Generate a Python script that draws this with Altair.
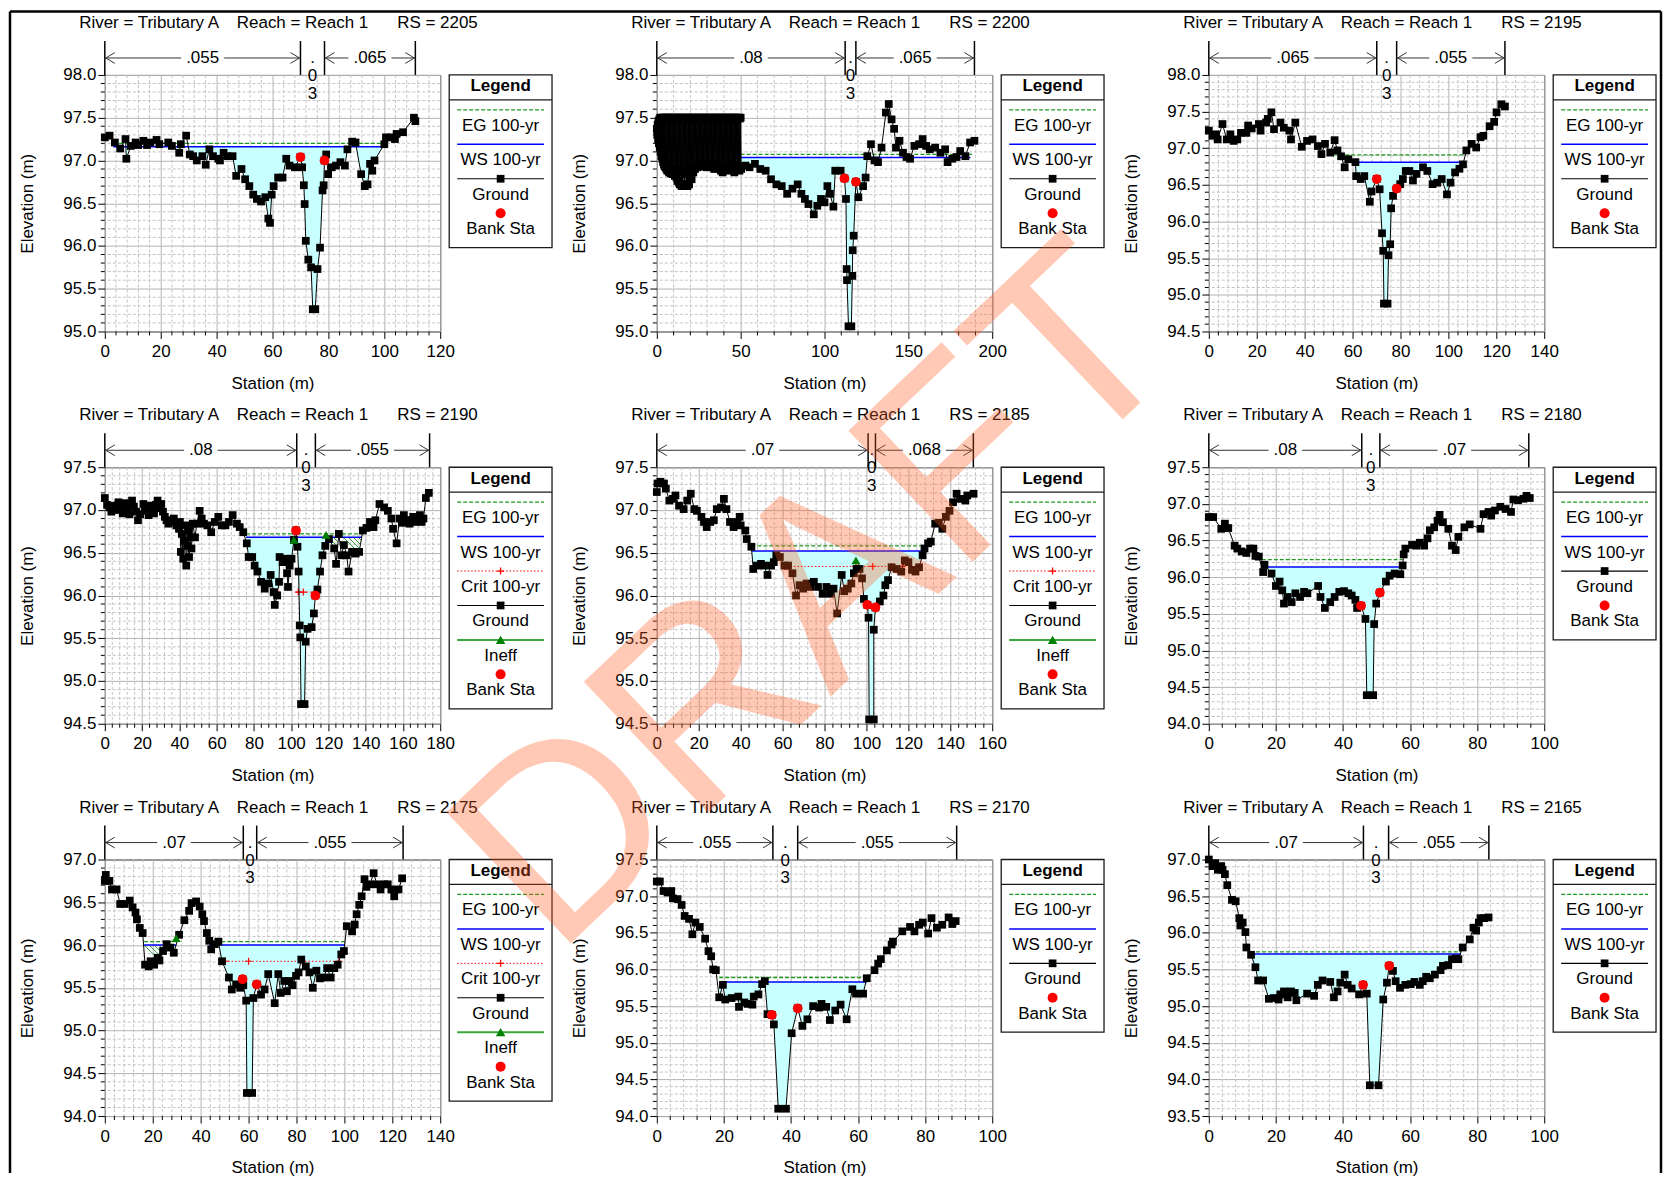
import altair as alt
import pandas as pd

FONT = "Liberation Sans"
FS = 17
PW, PH = 336, 257

RIVER_LABEL = "River = Tributary A"
REACH_LABEL = "Reach = Reach 1"
RS_ORDER = [2205, 2200, 2195, 2190, 2185, 2180, 2175, 2170, 2165]

X_MAX = {2205: 120, 2200: 200, 2195: 140, 2190: 180, 2185: 160, 2180: 100, 2175: 140, 2170: 100, 2165: 100}
X_STEP = {2205: 20, 2200: 50, 2195: 20, 2190: 20, 2185: 20, 2180: 20, 2175: 20, 2170: 20, 2165: 20}
Y_MIN = {2205: 95.0, 2200: 95.0, 2195: 94.5, 2190: 94.5, 2185: 94.5, 2180: 94.0, 2175: 94.0, 2170: 94.0, 2165: 93.5}
Y_MAX = {2205: 98.0, 2200: 98.0, 2195: 98.0, 2190: 97.5, 2185: 97.5, 2180: 97.5, 2175: 97.0, 2170: 97.5, 2165: 97.0}

# ---------------- ground points (station m, elevation m) ----------------
GROUND_2205 = [(0, 97.27), (1.7, 97.29), (3.6, 97.21), (5.5, 97.14), (7.4, 97.25), (7.7, 97.02), (9.3, 97.17),
               (11.0, 97.21), (11.9, 97.18), (13.8, 97.23), (15.1, 97.18), (16.3, 97.21), (18.5, 97.24), (19.5, 97.19),
               (22.7, 97.21), (24.0, 97.17), (26.6, 97.09), (27.2, 97.19), (29.1, 97.29), (30.4, 97.07), (31.6, 97.05),
               (32.9, 97.00), (34.9, 97.05), (36.1, 96.95), (37.4, 97.13), (38.7, 97.05), (40.6, 97.02), (41.2, 97.00),
               (42.5, 97.09), (43.8, 97.05), (45.7, 97.05), (47.0, 96.82), (48.9, 96.90), (50.2, 96.78), (51.7, 96.70),
               (53.1, 96.60), (54.4, 96.55), (55.9, 96.52), (57.4, 96.57), (58.5, 96.32), (59.1, 96.27), (59.7, 96.60),
               (60.4, 96.70), (62.0, 96.80), (63.6, 96.80), (64.9, 97.02), (66.1, 96.94), (68.0, 96.92), (70.0, 97.04),
               (70.6, 96.92), (71.2, 96.71), (71.5, 96.49), (71.9, 96.06), (72.8, 95.84), (73.8, 95.75), (74.4, 95.26),
               (75.3, 95.26), (76.1, 95.73), (77.0, 95.98), (77.9, 96.65), (78.3, 96.71), (78.6, 97.00), (79.2, 97.07),
               (79.9, 96.84), (81.2, 96.92), (82.7, 96.94), (84.3, 96.98), (85.9, 96.94), (86.8, 97.13), (88.5, 97.22),
               (89.7, 97.21), (91.7, 96.84), (93.0, 96.70), (94.0, 96.72), (94.9, 96.96), (95.7, 96.88), (96.5, 97.00),
               (100.0, 97.19), (100.6, 97.27), (102.5, 97.27), (103.8, 97.25), (104.4, 97.31), (106.7, 97.33),
               (110.6, 97.50), (111.1, 97.46)]

# RS 2200: very dense survey shots in the left overbank (stations 0..50, every 0.25 m), then the rest
LEFT_HI_2200 = [97.37, 97.42, 97.46, 97.48, 97.50, 97.49, 97.50, 97.50, 97.48, 97.50,
                97.50, 97.49, 97.50, 97.50, 97.50, 97.48, 97.50, 97.49, 97.50, 97.50,
                97.49, 97.50, 97.48, 97.50, 97.50, 97.49, 97.50, 97.50, 97.49, 97.50,
                97.50, 97.48, 97.50, 97.49, 97.50, 97.50, 97.49, 97.50, 97.50, 97.48,
                97.50, 97.49, 97.50, 97.50, 97.49, 97.50, 97.50, 97.48, 97.50, 97.49,
                97.50, 97.50, 97.49, 97.50, 97.48, 97.50, 97.50, 97.49, 97.50, 97.50,
                97.48, 97.50, 97.49, 97.50, 97.50, 97.49, 97.50, 97.48, 97.50, 97.50,
                97.49, 97.50, 97.50, 97.48, 97.50, 97.49, 97.50, 97.50, 97.49, 97.50,
                97.50, 97.48, 97.50, 97.49, 97.50, 97.50, 97.49, 97.50, 97.48, 97.50,
                97.50, 97.49, 97.50, 97.50, 97.48, 97.50, 97.49, 97.50, 97.50, 97.49,
                97.50]
LEFT_LO_2200 = [97.30, 97.25, 97.20, 97.15, 97.10, 97.05, 97.02, 96.98, 96.95, 96.93,
                96.92, 96.90, 96.88, 96.92, 96.86, 96.90, 96.85, 96.88, 96.84, 96.90,
                96.86, 96.82, 96.90, 96.80, 96.76, 96.88, 96.74, 96.72, 96.86, 96.70,
                96.72, 96.88, 96.70, 96.70, 96.84, 96.72, 96.70, 96.86, 96.72, 96.80,
                96.90, 96.78, 96.92, 96.86, 96.94, 96.90, 96.93, 96.95, 96.92, 96.94,
                96.95, 96.93, 96.96, 96.94, 96.95, 96.97, 96.93, 96.95, 96.94, 96.92,
                96.94, 96.96, 96.95, 96.93, 96.96, 96.94, 96.92, 96.95, 96.90, 96.94,
                96.92, 96.95, 96.93, 96.90, 96.94, 96.92, 96.88, 96.93, 96.86, 96.90,
                96.92, 96.88, 96.94, 96.90, 96.93, 96.91, 96.94, 96.92, 96.90, 96.93,
                96.88, 96.92, 96.86, 96.90, 96.92, 96.94, 96.90, 96.92, 96.88, 96.91]
RIGHT_2200 = [(50.3, 96.90), (52.8, 96.94), (55.3, 96.92), (58.5, 96.96), (61.7, 96.90), (64.9, 96.88), (68.1, 96.78),
              (71.3, 96.72), (74.5, 96.70), (77.7, 96.61), (80.9, 96.67), (84.0, 96.72), (86.2, 96.61), (88.3, 96.55),
              (90.4, 96.49), (93.6, 96.37), (95.7, 96.47), (97.9, 96.55), (100.0, 96.51), (101.7, 96.70),
              (103.2, 96.61), (105.3, 96.46), (106.4, 96.88), (109.6, 96.88), (111.9, 96.79), (112.8, 96.55),
              (113.2, 95.73), (113.4, 95.60), (114.3, 95.06), (116.0, 95.06), (116.6, 95.65), (116.8, 95.95),
              (117.4, 96.12), (118.7, 96.75), (120.2, 96.57), (123.0, 96.70), (124.5, 96.80), (125.5, 97.05),
              (127.7, 97.19), (129.8, 97.00), (131.9, 96.98), (134.0, 97.15), (136.6, 97.56), (138.3, 97.66),
              (140.0, 97.48), (141.5, 97.37), (142.6, 97.15), (144.7, 97.23), (146.8, 97.09), (148.9, 97.04),
              (151.0, 97.02), (153.6, 97.17), (156.4, 97.19), (158.5, 97.25), (160.6, 97.17), (162.8, 97.13),
              (166.0, 97.15), (169.1, 97.09), (171.9, 97.13), (173.4, 96.98), (176.2, 97.02), (178.7, 97.04),
              (180.9, 97.11), (184.0, 97.05), (186.8, 97.21), (189.4, 97.23)]

GROUND_2195 = [(0, 97.24), (1.5, 97.17), (3.0, 97.19), (3.7, 97.12), (5.7, 97.33), (7.5, 97.12), (9.0, 97.19),
               (10.4, 97.10), (11.9, 97.12), (13.4, 97.21), (15.7, 97.21), (16.4, 97.31), (17.9, 97.27), (20.9, 97.33),
               (21.6, 97.24), (23.9, 97.35), (24.6, 97.40), (26.1, 97.49), (27.2, 97.26), (29.9, 97.35), (31.3, 97.28),
               (33.6, 97.24), (34.3, 97.12), (36.1, 97.35), (38.8, 97.02), (41.0, 97.10), (43.3, 97.12), (45.5, 97.03),
               (47.0, 96.92), (48.5, 97.06), (50.7, 96.94), (52.5, 97.11), (53.7, 96.97), (55.2, 96.89), (56.7, 96.74),
               (58.2, 96.85), (61.2, 96.81), (61.5, 96.62), (63.4, 96.58), (64.9, 96.62), (67.2, 96.27), (67.9, 96.41),
               (70.1, 96.58), (71.3, 96.44), (72.3, 95.84), (72.8, 95.60), (73.1, 94.88), (74.6, 94.88), (75.0, 95.54),
               (75.7, 95.69), (76.1, 96.18), (76.9, 96.35), (78.4, 96.45), (79.9, 96.51), (81.0, 96.58), (82.2, 96.69),
               (83.7, 96.69), (85.2, 96.56), (86.7, 96.65), (89.4, 96.74), (91.2, 96.69), (93.4, 96.51), (95.4, 96.53),
               (97.2, 96.58), (99.4, 96.37), (100.9, 96.53), (102.8, 96.67), (104.6, 96.72), (106.1, 96.78),
               (107.5, 96.97), (109.7, 97.06), (111.6, 97.01), (113.4, 97.15), (114.6, 97.17), (117.2, 97.30),
               (119.1, 97.36), (120.1, 97.49), (122.1, 97.60), (123.6, 97.57)]

GROUND_2190 = [(0, 97.14), (1.2, 97.06), (2.5, 97.03), (3.5, 96.98), (5.4, 97.05), (6.3, 97.00), (7.3, 97.09),
               (8.4, 97.02), (9.6, 96.96), (10.8, 97.08), (12.1, 97.03), (13.2, 96.95), (14.6, 97.11), (15.6, 97.04),
               (16.9, 96.98), (17.8, 96.88), (19.0, 96.95), (20.7, 97.07), (21.6, 96.99), (22.6, 97.01), (23.5, 96.94),
               (24.5, 97.05), (25.4, 97.00), (26.4, 96.96), (27.3, 97.06), (28.3, 97.11), (29.3, 97.02), (30.3, 97.07),
               (31.2, 96.98), (32.2, 96.92), (33.1, 96.88), (34.1, 96.84), (35.5, 96.86), (37.0, 96.90), (38.4, 96.82),
               (39.8, 96.78), (40.3, 96.86), (40.8, 96.51), (41.3, 96.72), (42.1, 96.43), (42.6, 96.64), (43.2, 96.82),
               (43.7, 96.35), (44.2, 96.58), (44.8, 96.76), (45.2, 96.45), (45.8, 96.68), (46.5, 96.55), (47.2, 96.84),
               (48.4, 96.68), (49.4, 96.84), (50.9, 96.99), (52.0, 96.90), (53.2, 96.84), (55.0, 96.82), (57.1, 96.74),
               (59.0, 96.86), (60.9, 96.92), (62.8, 96.82), (64.7, 96.82), (66.6, 96.86), (68.6, 96.94), (70.9, 96.84),
               (72.4, 96.80), (74.3, 96.74), (76.2, 96.61), (77.2, 96.45), (79.1, 96.45), (80.4, 96.35), (81.9, 96.28),
               (83.9, 96.16), (85.8, 96.08), (87.7, 96.14), (89.0, 96.24), (90.6, 96.04), (91.2, 95.89), (92.5, 96.00),
               (93.5, 96.16), (93.8, 96.45), (95.4, 96.39), (96.9, 96.43), (97.8, 96.26), (98.3, 96.10), (99.2, 96.35),
               (100.2, 96.43), (101.5, 96.65), (102.6, 96.76), (103.4, 96.57), (104.0, 96.28), (104.6, 95.65),
               (104.9, 95.51), (105.3, 94.73), (107.2, 94.73), (107.8, 95.46), (108.8, 95.61), (111.0, 95.63),
               (112.2, 95.79), (113.0, 96.00), (114.1, 96.07), (115.5, 96.28), (116.8, 96.47), (118.3, 96.58),
               (120.3, 96.66), (123.1, 96.55), (124.1, 96.37), (125.6, 96.72), (127.0, 96.47), (128.3, 96.59),
               (129.8, 96.47), (130.8, 96.28), (132.7, 96.51), (134.6, 96.49), (136.5, 96.51), (138.5, 96.76),
               (140.4, 96.79), (142.3, 96.86), (144.2, 96.80), (145.2, 96.88), (147.4, 97.07), (149.9, 97.03),
               (151.9, 96.99), (153.8, 96.90), (154.7, 96.78), (156.6, 96.61), (158.2, 96.90), (159.4, 96.85),
               (160.5, 96.94), (161.5, 96.86), (162.4, 96.88), (163.5, 96.84), (164.3, 96.88), (165.5, 96.92),
               (166.6, 96.86), (167.8, 96.90), (169.1, 96.94), (170.0, 96.86), (171.0, 96.90), (172.3, 97.14),
               (173.9, 97.20)]

GROUND_2185 = [(0, 97.21), (0.3, 97.31), (1.7, 97.33), (3.4, 97.31), (4.3, 97.25), (6.0, 97.11), (7.7, 97.13),
               (8.9, 97.17), (10.6, 97.05), (12.8, 97.01), (14.5, 97.11), (16.2, 97.19), (17.9, 97.01), (19.1, 96.99),
               (21.3, 96.92), (22.5, 96.86), (23.8, 96.80), (25.5, 96.86), (27.2, 96.88), (28.6, 97.01), (30.6, 97.03),
               (32.0, 97.13), (33.2, 97.01), (34.9, 96.86), (36.6, 96.80), (38.3, 96.86), (39.5, 96.92), (40.0, 96.82),
               (42.2, 96.76), (42.9, 96.66), (45.1, 96.57), (46.0, 96.31), (47.7, 96.35), (49.7, 96.37), (51.1, 96.35),
               (52.8, 96.24), (54.5, 96.35), (55.8, 96.39), (57.0, 96.47), (58.7, 96.45), (60.9, 96.35), (62.6, 96.35),
               (64.7, 96.26), (66.4, 96.00), (68.1, 96.12), (69.8, 96.08), (71.5, 96.14), (73.2, 96.10), (74.9, 96.16),
               (76.9, 96.10), (79.1, 96.02), (80.9, 96.10), (82.6, 96.02), (84.3, 96.08), (86.0, 95.79), (88.2, 96.24),
               (89.4, 96.05), (91.1, 96.08), (92.8, 96.14), (94.0, 96.26), (95.3, 96.31), (96.7, 96.31), (97.9, 96.20),
               (98.8, 95.96), (100.4, 95.89), (101.0, 95.74), (101.3, 94.55), (103.5, 94.55), (103.5, 95.60),
               (104.3, 95.86), (106.4, 95.93), (108.1, 96.00), (109.0, 96.12), (110.3, 96.18), (112.0, 96.33),
               (114.4, 96.31), (116.6, 96.28), (118.3, 96.41), (120.0, 96.39), (121.7, 96.30), (123.4, 96.28),
               (125.1, 96.33), (126.8, 96.47), (127.7, 96.55), (129.4, 96.61), (130.7, 96.63), (132.8, 96.84),
               (134.5, 96.85), (136.2, 96.78), (137.9, 96.92), (139.6, 96.99), (141.3, 97.09), (143.0, 97.19),
               (144.7, 97.13), (147.2, 97.11), (148.1, 97.17), (151.1, 97.19)]

GROUND_2180 = [(0, 96.82), (1.3, 96.82), (3.7, 96.66), (4.8, 96.73), (5.8, 96.67), (7.7, 96.43), (8.5, 96.39),
               (9.8, 96.35), (11.2, 96.33), (12.3, 96.39), (13.3, 96.39), (13.9, 96.29), (14.9, 96.28), (16.2, 96.07),
               (16.6, 96.17), (18.7, 96.05), (20.0, 95.88), (21.1, 95.94), (21.9, 95.82), (22.4, 95.64), (23.5, 95.73),
               (24.7, 95.66), (25.8, 95.78), (27.2, 95.73), (28.4, 95.80), (29.4, 95.78), (32.6, 95.88), (33.3, 95.73),
               (34.6, 95.58), (36.2, 95.66), (37.5, 95.73), (38.9, 95.80), (40.3, 95.81), (41.6, 95.78), (42.6, 95.75),
               (43.7, 95.69), (44.2, 95.58), (45.4, 95.61), (46.7, 95.43), (47.1, 94.39), (49.0, 94.39), (49.3, 95.36),
               (49.9, 95.64), (51.0, 95.79), (52.8, 95.94), (53.9, 96.02), (55.4, 96.05), (57.1, 96.04), (57.8, 96.16),
               (58.1, 96.31), (58.6, 96.39), (60.6, 96.44), (61.8, 96.43), (62.9, 96.47), (64.2, 96.43), (65.2, 96.53),
               (65.9, 96.64), (67.2, 96.68), (68.2, 96.77), (68.8, 96.85), (69.8, 96.75), (71.4, 96.66), (72.5, 96.43),
               (73.6, 96.37), (74.4, 96.55), (76.2, 96.68), (77.8, 96.72), (81.0, 96.66), (81.9, 96.86), (83.4, 96.89),
               (84.2, 96.84), (85.3, 96.91), (86.9, 96.96), (88.5, 96.93), (90.1, 96.89), (90.8, 97.06), (92.2, 97.05),
               (93.8, 97.07), (94.7, 97.11), (95.7, 97.08)]

GROUND_2175 = [(0, 96.75), (0.4, 96.82), (1.9, 96.75), (3.0, 96.65), (4.9, 96.65), (6.4, 96.48), (8.3, 96.48),
               (10.4, 96.52), (11.6, 96.44), (12.8, 96.38), (13.4, 96.30), (14.6, 96.20), (15.8, 96.14), (16.8, 95.77),
               (18.3, 95.75), (19.1, 95.81), (20.6, 95.77), (22.1, 95.85), (22.8, 95.82), (24.3, 95.93), (25.8, 96.01),
               (27.3, 95.97), (28.8, 95.91), (31.0, 96.12), (33.2, 96.29), (35.2, 96.40), (36.2, 96.49), (38.1, 96.51),
               (39.6, 96.45), (40.7, 96.36), (41.4, 96.28), (42.6, 96.14), (43.6, 96.05), (44.4, 95.95), (45.9, 96.01),
               (47.4, 96.04), (48.9, 95.81), (51.8, 95.62), (53.0, 95.48), (54.8, 95.54), (56.5, 95.50), (57.5, 95.60),
               (57.8, 95.53), (59.0, 95.35), (59.3, 94.27), (61.5, 94.27), (62.0, 95.38), (63.4, 95.54), (65.2, 95.42),
               (66.7, 95.48), (68.2, 95.66), (70.9, 95.32), (72.4, 95.66), (73.4, 95.44), (74.9, 95.58), (76.0, 95.46),
               (77.2, 95.58), (78.4, 95.53), (79.8, 95.64), (80.9, 95.68), (82.0, 95.83), (83.9, 95.75), (85.4, 95.68),
               (86.8, 95.50), (88.3, 95.70), (89.8, 95.61), (91.3, 95.62), (92.8, 95.73), (94.3, 95.62), (95.8, 95.73),
               (97.2, 95.77), (98.7, 95.89), (99.8, 95.93), (101.0, 96.22), (103.2, 96.16), (104.3, 96.24),
               (105.1, 96.36), (106.2, 96.47), (107.2, 96.57), (108.4, 96.77), (109.2, 96.68), (110.7, 96.71),
               (112.2, 96.84), (113.6, 96.71), (115.1, 96.65), (116.6, 96.71), (118.1, 96.71), (119.6, 96.65),
               (120.8, 96.57), (122.6, 96.65), (124.1, 96.78)]

GROUND_2170 = [(0, 97.20), (0.9, 97.20), (2.0, 97.07), (3.2, 97.05), (4.3, 97.07), (4.8, 96.97), (6.2, 96.96),
               (7.4, 96.88), (8.3, 96.73), (9.6, 96.69), (10.6, 96.48), (11.5, 96.64), (12.8, 96.58), (14.4, 96.42),
               (15.4, 96.25), (16.2, 96.18), (16.8, 96.00), (17.6, 95.99), (18.6, 95.62), (19.7, 95.79), (20.4, 95.59),
               (22.3, 95.61), (24.3, 95.63), (24.5, 95.49), (26.1, 95.55), (27.1, 95.53), (28.5, 95.52), (28.9, 95.63),
               (30.3, 95.66), (31.4, 95.80), (32.2, 95.84), (33.0, 95.39), (34.3, 95.38), (34.9, 95.25), (36.2, 94.10),
               (38.5, 94.10), (40.2, 95.13), (42.0, 95.47), (43.4, 95.23), (44.9, 95.32), (46.6, 95.50), (48.4, 95.48),
               (49.1, 95.53), (50.5, 95.49), (51.6, 95.31), (53.2, 95.44), (54.8, 95.52), (56.6, 95.32), (58.3, 95.73),
               (59.4, 95.67), (61.5, 95.67), (62.6, 95.88), (64.9, 95.99), (66.0, 96.08), (66.8, 96.14), (68.6, 96.26),
               (70.0, 96.34), (70.4, 96.38), (73.2, 96.52), (75.5, 96.58), (76.8, 96.52), (78.2, 96.61), (79.3, 96.64),
               (80.9, 96.49), (81.9, 96.70), (83.5, 96.57), (85.1, 96.61), (87.0, 96.71), (88.1, 96.62), (89.1, 96.66)]

GROUND_2165 = [(0, 97.00), (1.1, 96.91), (1.9, 96.95), (2.7, 96.86), (3.7, 96.91), (4.1, 96.86), (4.8, 96.80),
               (5.5, 96.65), (6.9, 96.45), (8.0, 96.43), (9.1, 96.20), (9.4, 96.10), (10.1, 96.14), (10.9, 96.01),
               (11.2, 95.80), (12.6, 95.70), (13.9, 95.53), (14.7, 95.35), (16.2, 95.35), (17.9, 95.10), (19.4, 95.11),
               (20.8, 95.09), (21.3, 95.16), (22.4, 95.20), (23.5, 95.12), (24.5, 95.20), (25.6, 95.18), (26.1, 95.08),
               (29.3, 95.17), (31.4, 95.14), (32.5, 95.29), (33.9, 95.35), (36.2, 95.33), (37.3, 95.12), (38.4, 95.20),
               (39.2, 95.32), (40.5, 95.43), (41.4, 95.29), (42.6, 95.24), (44.8, 95.16), (46.0, 95.29), (47.1, 95.17),
               (48.0, 93.92), (50.6, 93.92), (52.0, 95.09), (53.1, 95.32), (53.8, 95.55), (54.9, 95.48), (55.7, 95.34),
               (57.0, 95.25), (58.6, 95.29), (60.2, 95.30), (61.3, 95.33), (62.9, 95.29), (63.8, 95.34), (64.8, 95.40),
               (65.9, 95.38), (67.4, 95.43), (69.1, 95.49), (69.8, 95.55), (71.4, 95.56), (72.5, 95.64), (73.6, 95.65),
               (74.4, 95.64), (75.7, 95.80), (77.8, 95.91), (78.9, 96.07), (79.7, 96.03), (80.5, 96.14), (81.0, 96.20),
               (82.1, 96.20), (83.4, 96.21)]

# ---------------- hydraulics ----------------
WS_ELEV = {2205: 97.16, 2200: 97.035, 2195: 96.81, 2190: 96.68, 2185: 96.52, 2180: 96.14, 2175: 96.00, 2170: 95.83, 2165: 95.71}
EG_ELEV = {2205: 97.20, 2200: 97.07, 2195: 96.91, 2190: 96.72, 2185: 96.58, 2180: 96.24, 2175: 96.04, 2170: 95.89, 2165: 95.74}
WS_EXTENT = {2205: [(3.0, 99.5)], 2200: [(50.0, 187.0)], 2195: [(56.7, 106.0)], 2190: [(75.8, 137.9)],
             2185: [(45.1, 129.0)], 2180: [(15.8, 57.6)], 2175: [(16.4, 29.8), (43.6, 100.2)],
             2170: [(18.6, 62.6)], 2165: [(12.3, 75.2)]}
EG_EXTENT = {2205: [(3.0, 100.0)], 2200: [(50.0, 188.0)], 2195: [(47.0, 107.5)], 2190: [(75.8, 138.5)],
             2185: [(45.1, 128.5)], 2180: [(15.8, 57.8)], 2175: [(16.4, 29.8), (43.6, 100.2)],
             2170: [(18.6, 62.6)], 2165: [(12.3, 75.2)]}
WET_EXTENT = {2205: [(3.0, 99.5)], 2200: [(50.0, 187.0)], 2195: [(56.7, 106.0)], 2190: [(75.8, 120.0)],
              2185: [(45.1, 129.0)], 2180: [(15.8, 57.6)], 2175: [(43.6, 100.2)],
              2170: [(18.6, 62.6)], 2165: [(12.3, 75.2)]}
INEFF_AREA = {2190: [(120.0, 137.9)], 2175: [(16.4, 29.8)]}
CRIT_ELEV = {2190: 96.04, 2185: 96.34, 2175: 95.81}
CRIT_EXTENT = {2190: [(89.2, 94.4), (102.6, 113.6)], 2185: [(60.4, 118.6)], 2175: [(50.0, 98.1)]}
CRIT_MARKS = {2190: [90.6, 92.5, 103.8, 106.5], 2185: [60.9, 62.6, 95.0, 96.2, 103.0, 112.0, 117.1],
              2175: [50.3, 60.0, 82.4, 97.7]}
INEFF = {2190: [(101.5, 96.65), (118.7, 96.71)], 2185: [(95.0, 96.41)], 2175: [(29.8, 96.08)]}
BANKS = {2205: [(70.0, 97.04), (78.6, 97.00)], 2200: [(111.9, 96.79), (118.7, 96.75)],
         2195: [(70.1, 96.58), (78.4, 96.45)], 2190: [(102.6, 96.76), (113.0, 96.00)],
         2185: [(100.4, 95.89), (104.3, 95.86)], 2180: [(45.4, 95.61), (51.0, 95.79)],
         2175: [(57.5, 95.60), (63.4, 95.54)], 2170: [(34.3, 95.38), (42.0, 95.47)],
         2165: [(46.0, 95.29), (53.8, 95.55)]}
N_BREAKS = {2205: [0, 70.0, 78.6, 111.1], 2200: [0, 112.3, 118.7, 189.4], 2195: [0, 70.1, 78.4, 123.6],
            2190: [0, 103.0, 113.0, 174.3], 2185: [0, 100.8, 104.3, 151.0], 2180: [0, 45.6, 51.0, 95.4],
            2175: [0, 57.8, 63.4, 124.5], 2170: [0, 34.6, 42.0, 89.4], 2165: [0, 46.1, 53.6, 83.5]}
N_VALUES = {2205: [".055", ".03", ".065"], 2200: [".08", ".03", ".065"], 2195: [".065", ".03", ".055"],
            2190: [".08", ".03", ".055"], 2185: [".07", ".03", ".068"], 2180: [".08", ".03", ".07"],
            2175: [".07", ".03", ".055"], 2170: [".055", ".03", ".055"], 2165: [".07", ".03", ".055"]}

GROUND_2200 = sorted([(k * 0.5, v) for k, v in enumerate(LEFT_HI_2200)] +
                     [(k * 0.5 + 0.25, v) for k, v in enumerate(LEFT_LO_2200)]) + RIGHT_2200
GROUND = {2205: GROUND_2205, 2200: GROUND_2200, 2195: GROUND_2195, 2190: GROUND_2190, 2185: GROUND_2185,
          2180: GROUND_2180, 2175: GROUND_2175, 2170: GROUND_2170, 2165: GROUND_2165}

# ---------------- styling ----------------
WATER = "#c8ffff"
GRID_MAJ = "#b4b4b4"
GRID_MIN = "#c4c4c4"
EG_COLOR = "#1f9a1f"
WS_COLOR = "#0000ff"
INEFF_COLOR = "#008000"
INEFF_LINE = "#3aa83a"
HATCH_COLOR = "#2e9e2e"
PLUS = "M-1,0L1,0M0,-1L0,1"
LEFT_HEAD = "M1,-1.2L-1,0L1,1.2"
RIGHT_HEAD = "M-1,-1.2L1,0L-1,1.2"
CHAR_W = {".": 0.278, "-": 0.333}
ONE_ROW = pd.DataFrame({"k": [0]})


def text_w(s):
    return sum(CHAR_W.get(c, 0.556) for c in s) * FS


def one():
    return alt.Chart(ONE_ROW)


def vtext(txt, x, y, align="center", weight="normal", size=FS):
    return one().mark_text(text=txt, font=FONT, fontSize=size, fontWeight=weight, align=align,
                           baseline="middle", color="black").encode(x=alt.value(x), y=alt.value(y))


def vrule(x, y, x2=None, y2=None, **kw):
    enc = {"x": alt.value(x), "y": alt.value(y)}
    if x2 is not None:
        enc["x2"] = alt.value(x2)
    if y2 is not None:
        enc["y2"] = alt.value(y2)
    return one().mark_rule(**kw).encode(**enc)


def vpoint(x, y, **kw):
    return one().mark_point(**kw).encode(x=alt.value(x), y=alt.value(y))


def wet_rows(ground, ws, lo, hi, seg):
    pts = []
    for k in range(len(ground)):
        x1, y1 = ground[k]
        pts.append((x1, y1))
        if k < len(ground) - 1:
            x2, y2 = ground[k + 1]
            if (y1 - ws) * (y2 - ws) < 0:
                t = (ws - y1) / (y2 - y1)
                pts.append((x1 + t * (x2 - x1), ws))
    out = []
    for k in range(len(pts)):
        x, y = pts[k]
        if k > 0:
            xp, yp = pts[k - 1]
            for b in (lo, hi):
                if xp < b < x:
                    t = (b - xp) / (x - xp)
                    out.append((b, yp + t * (y - yp)))
        if lo <= x <= hi:
            out.append((x, y))
    return [{"sta": x, "top": ws, "bot": min(y, ws), "seg": seg} for (x, y) in out]


def ground_at(ground, x):
    for (x1, y1), (x2, y2) in zip(ground[:-1], ground[1:]):
        if x1 <= x <= x2 and x2 > x1:
            return y1 + (x - x1) * (y2 - y1) / (x2 - x1)
    return None


def hatch_rows(ground, ws, lo, hi, xmax, ymin, ymax, spacing_px=5.0):
    """45-degree hatch lines (in screen space) inside the ineffective pocket below the water surface."""
    kx = PW / xmax
    ky = PH / (ymax - ymin)
    rows = []
    xt = lo
    while xt <= hi:
        g0 = ground_at(ground, xt)
        if g0 is not None and g0 < ws:
            x, y = xt, ws
            while True:
                xn, yn = x + 0.5 / kx, y - 0.5 / ky
                g = ground_at(ground, xn)
                if g is None or xn > hi or yn <= g:
                    break
                x, y = xn, yn
            if x > xt:
                rows.append({"x1": xt, "y1": ws, "x2": x, "y2": y})
        xt += spacing_px / kx
    return rows


LEG_LABEL = {"EG": "EG 100-yr", "WS": "WS 100-yr", "Crit": "Crit 100-yr", "Ground": "Ground",
             "Ineff": "Ineff", "Bank": "Bank Sta"}


def legend(kinds):
    L, R = 345, 448
    cx = (L + R) / 2
    n = len(kinds)
    lays = [one().mark_rect(fill="white", stroke="#1a1a1a", strokeWidth=1.3).encode(
                x=alt.value(L), x2=alt.value(R), y=alt.value(0), y2=alt.value(35 + 34.5 * n)),
            vrule(L, 25, x2=R, color="#1a1a1a", strokeWidth=1.3),
            vtext("Legend", cx, 11.5, weight="bold")]
    for i, k in enumerate(kinds):
        ly = 35 + 34.5 * i
        if k == "EG":
            lays.append(vrule(353, ly, x2=440, color=EG_COLOR, strokeWidth=1.3, strokeDash=[4, 2]))
        elif k == "WS":
            lays.append(vrule(353, ly, x2=440, color=WS_COLOR, strokeWidth=1.5))
        elif k == "Crit":
            lays.append(vrule(353, ly, x2=440, color="#ff0000", strokeWidth=1, strokeDash=[1.5, 2]))
            lays.append(vpoint(cx, ly, shape=PLUS, filled=False, color="#ff0000", size=50, strokeWidth=1.3, opacity=1))
        elif k == "Ground":
            lays.append(vrule(353, ly, x2=440, color="black", strokeWidth=1.2))
            lays.append(vpoint(cx, ly, shape="square", filled=True, color="black", size=60, opacity=1))
        elif k == "Ineff":
            lays.append(vrule(353, ly, x2=440, color=INEFF_LINE, strokeWidth=2))
            lays.append(vpoint(cx, ly, shape="triangle-up", filled=True, color=INEFF_COLOR, size=90, opacity=1))
        elif k == "Bank":
            lays.append(vpoint(cx, ly, shape="circle", filled=True, color="#ff0000", size=100, opacity=1))
        lays.append(vtext(LEG_LABEL[k], cx, ly + 16))
    return lays


def panel(rs, extra=()):
    xmax = X_MAX[rs]
    ymin, ymax = Y_MIN[rs], Y_MAX[rs]
    xs = alt.Scale(domain=[0, xmax], nice=False, zero=False)
    ys = alt.Scale(domain=[ymin, ymax], nice=False, zero=False)
    step = X_STEP[rs]
    xmajor = list(range(0, xmax + 1, step))
    xminor = [k * step / 5 for k in range(0, int(round(xmax * 5 / step)) + 1) if k % 5 != 0]
    ny = int(round((ymax - ymin) / 0.1))
    ymajor = [round(ymin + 0.1 * k, 2) for k in range(ny + 1) if k % 5 == 0]
    yminor = [round(ymin + 0.1 * k, 2) for k in range(ny + 1) if k % 5 != 0]

    xax = alt.Axis(values=xmajor, format="d", grid=True, gridColor=GRID_MAJ, gridWidth=1, domain=False,
                   ticks=True, tickColor="black", tickSize=7, tickWidth=1,
                   labelFont=FONT, labelFontSize=FS, labelColor="black", labelPadding=5,
                   labelFlush=False, labelOverlap=False,
                   title="Station (m)", titleFont=FONT, titleFontSize=FS, titleFontWeight="normal",
                   titleColor="black", titleX=PW / 2, titleY=52, titleAlign="center", titleBaseline="middle")
    yax = alt.Axis(values=ymajor, format=".1f", grid=True, gridColor=GRID_MAJ, gridWidth=1, domain=False,
                   ticks=True, tickColor="black", tickSize=7, tickWidth=1,
                   labelFont=FONT, labelFontSize=FS, labelColor="black", labelPadding=2,
                   labelOverlap=False,
                   title="Elevation (m)", titleFont=FONT, titleFontSize=FS, titleFontWeight="normal",
                   titleColor="black", titleAngle=270, titleX=-77, titleY=PH / 2, titleAlign="center",
                   titleBaseline="middle")

    def X(f):
        return alt.X(f"{f}:Q", scale=xs, axis=xax)

    def Y(f):
        return alt.Y(f"{f}:Q", scale=ys, axis=yax)

    lays = []
    # minor grid and minor ticks
    xm = pd.DataFrame({"v": xminor})
    ym = pd.DataFrame({"v": yminor})
    lays.append(alt.Chart(xm).mark_rule(color=GRID_MIN, strokeDash=[3, 2], strokeWidth=1).encode(x=X("v")))
    lays.append(alt.Chart(ym).mark_rule(color=GRID_MIN, strokeDash=[3, 2], strokeWidth=1).encode(y=Y("v")))
    lays.append(alt.Chart(xm).mark_rule(color="black", strokeWidth=1).encode(
        x=X("v"), y=alt.value(PH), y2=alt.value(PH + 4)))
    lays.append(alt.Chart(ym).mark_rule(color="black", strokeWidth=1).encode(
        y=Y("v"), x=alt.value(-4), x2=alt.value(0)))

    ground = GROUND[rs]
    ws = WS_ELEV[rs]
    eg = EG_ELEV[rs]

    # water fill
    wet = []
    for j, (lo, hi) in enumerate(WET_EXTENT[rs]):
        wet += wet_rows(ground, ws, lo, hi, j)
    lays.append(alt.Chart(pd.DataFrame(wet)).mark_area(color=WATER, opacity=1, interpolate="linear").encode(
        x=X("sta"), y=Y("top"), y2=alt.Y2("bot"), detail="seg:N"))

    # ineffective-flow hatching
    if rs in INEFF_AREA:
        hr = []
        for lo, hi in INEFF_AREA[rs]:
            hr += hatch_rows(ground, ws, lo, hi, xmax, ymin, ymax)
        if hr:
            lays.append(alt.Chart(pd.DataFrame(hr)).mark_rule(color=HATCH_COLOR, strokeWidth=1).encode(
                x=X("x1"), y=Y("y1"), x2=alt.X2("x2"), y2=alt.Y2("y2")))

    # EG and WS lines
    eg_df = pd.DataFrame([{"x1": a, "x2": b, "y": eg} for a, b in EG_EXTENT[rs]])
    ws_df = pd.DataFrame([{"x1": a, "x2": b, "y": ws} for a, b in WS_EXTENT[rs]])
    lays.append(alt.Chart(eg_df).mark_rule(color=EG_COLOR, strokeWidth=1.3, strokeDash=[4, 2]).encode(
        x=X("x1"), x2=alt.X2("x2"), y=Y("y")))
    lays.append(alt.Chart(ws_df).mark_rule(color=WS_COLOR, strokeWidth=1.5).encode(
        x=X("x1"), x2=alt.X2("x2"), y=Y("y")))

    # critical depth
    if rs in CRIT_ELEV:
        ce = CRIT_ELEV[rs]
        cr = pd.DataFrame([{"x1": a, "x2": b, "y": ce} for a, b in CRIT_EXTENT[rs]])
        lays.append(alt.Chart(cr).mark_rule(color="#ff0000", strokeWidth=1, strokeDash=[1.5, 2]).encode(
            x=X("x1"), x2=alt.X2("x2"), y=Y("y")))
        cm = pd.DataFrame({"sta": CRIT_MARKS[rs], "elev": [ce] * len(CRIT_MARKS[rs])})
        lays.append(alt.Chart(cm).mark_point(shape=PLUS, filled=False, color="#ff0000", size=50,
                                             strokeWidth=1.2, opacity=1).encode(x=X("sta"), y=Y("elev")))

    # ground
    gdf = pd.DataFrame({"sta": [p[0] for p in ground], "elev": [p[1] for p in ground],
                        "i": list(range(len(ground)))})
    lays.append(alt.Chart(gdf).mark_line(color="black", strokeWidth=1).encode(
        x=X("sta"), y=Y("elev"), order="i:Q"))
    lays.append(alt.Chart(gdf).mark_square(color="black", size=60, opacity=1).encode(x=X("sta"), y=Y("elev")))

    # bank stations
    bdf = pd.DataFrame({"sta": [p[0] for p in BANKS[rs]], "elev": [p[1] for p in BANKS[rs]]})
    lays.append(alt.Chart(bdf).mark_circle(color="#ff0000", size=95, opacity=1).encode(x=X("sta"), y=Y("elev")))

    # ineffective flow markers
    if rs in INEFF:
        idf = pd.DataFrame({"sta": [p[0] for p in INEFF[rs]], "elev": [p[1] for p in INEFF[rs]]})
        lays.append(alt.Chart(idf).mark_point(shape="triangle-up", filled=True, color=INEFF_COLOR, size=80,
                                              opacity=1).encode(x=X("sta"), y=Y("elev")))

    # Manning's n annotations above the plot
    b = N_BREAKS[rs]
    v = N_VALUES[rs]
    pxm = PW / xmax
    lays.append(alt.Chart(pd.DataFrame({"s": b})).mark_rule(color="black", strokeWidth=1.5).encode(
        x=X("s"), y=alt.value(-34), y2=alt.value(0)))
    segs, lh, rh, labs = [], [], [], []
    for k in (0, 2):
        a, c = b[k], b[k + 1]
        mid = (a + c) / 2
        g = (text_w(v[k]) / 2 + 5) / pxm
        segs += [{"x1": a, "x2": mid - g}, {"x1": mid + g, "x2": c}]
        lh.append({"s": a})
        rh.append({"s": c})
        labs.append({"s": mid, "t": v[k]})
    lays.append(alt.Chart(pd.DataFrame(segs)).mark_rule(color="#333333", strokeWidth=1).encode(
        x=X("x1"), x2=alt.X2("x2"), y=alt.value(-17)))
    lays.append(alt.Chart(pd.DataFrame(lh)).mark_point(shape=LEFT_HEAD, filled=False, color="#333333", size=81,
                                                       strokeWidth=1, opacity=1, xOffset=5.5).encode(
        x=X("s"), y=alt.value(-17)))
    lays.append(alt.Chart(pd.DataFrame(rh)).mark_point(shape=RIGHT_HEAD, filled=False, color="#333333", size=81,
                                                       strokeWidth=1, opacity=1, xOffset=-5.5).encode(
        x=X("s"), y=alt.value(-17)))
    lays.append(alt.Chart(pd.DataFrame(labs)).mark_text(font=FONT, fontSize=FS, align="center", baseline="middle",
                                                        color="black").encode(
        x=X("s"), y=alt.value(-17), text="t:N"))
    cmid = (b[1] + b[2]) / 2
    for ch, yy in zip(list(v[1]), (-17, 1, 19)):
        lays.append(alt.Chart(pd.DataFrame({"s": [cmid], "t": [ch]})).mark_text(
            font=FONT, fontSize=FS, align="center", baseline="middle", color="black").encode(
            x=X("s"), y=alt.value(yy), text="t:N"))

    # panel heading
    lays.append(vtext(RIVER_LABEL, -25.7, -52, align="left"))
    lays.append(vtext(REACH_LABEL, 132.2, -52, align="left"))
    lays.append(vtext(f"RS = {rs}", 292.9, -52, align="left"))

    # legend
    kinds = ["EG", "WS", "Crit", "Ground", "Ineff", "Bank"] if rs in CRIT_ELEV else ["EG", "WS", "Ground", "Bank"]
    lays += legend(kinds)
    lays += list(extra)
    return alt.layer(*lays).properties(width=PW, height=PH)


# outer frame (drawn relative to first panel) and DRAFT watermark (drawn in last panel, on top)
frame = [vrule(-95.0, -63.5, x2=1559, color="black", strokeWidth=2.5),
         vrule(-95.0, -63.5, y2=1100, color="black", strokeWidth=2.5),
         vrule(1559, -63.5, y2=1100, color="black", strokeWidth=2.5)]
watermark = [one().mark_text(text="DRAFT", font=FONT, fontSize=263, angle=316.5, align="center",
                             baseline="alphabetic", color="#ff5a1e", opacity=0.32).encode(
    x=alt.value(-337), y=alt.value(-203))]

panels = []
for rs in RS_ORDER:
    if rs == 2205:
        panels.append(panel(rs, frame))
    elif rs == 2165:
        panels.append(panel(rs, watermark))
    else:
        panels.append(panel(rs))

chart = alt.ConcatChart(concat=panels, columns=3, spacing={"row": 136, "column": 217}, bounds="flush",
                        padding=0, background="white").configure_view(stroke="black", strokeWidth=1, fill="white")

chart.save("out.html", embed_options={"renderer": "svg", "actions": False})
